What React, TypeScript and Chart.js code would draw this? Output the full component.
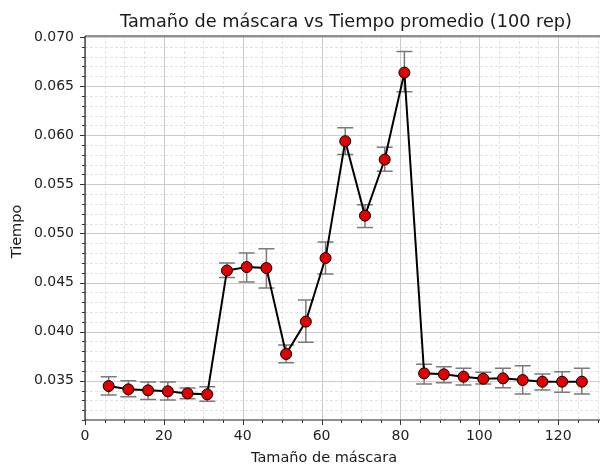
import React, { useEffect, useRef } from "react";
import { Chart, registerables } from "chart.js";

Chart.register(...registerables);

const titleText = "Tamaño de máscara vs Tiempo promedio (100 rep)";
const xLabel = "Tamaño de máscara";
const yLabel = "Tiempo";

const maskSizes = [6, 11, 16, 21, 26, 31, 36, 41, 46, 51, 56, 61, 66, 71, 76, 81, 86, 91, 96, 101, 106, 111, 116, 121, 126];
const meanTimes = [
  0.03446, 0.03412, 0.03402, 0.03392, 0.03371, 0.03361, 0.04622, 0.04657, 0.04647, 0.03772,
  0.04102, 0.04749, 0.05939, 0.05181, 0.05752, 0.06637, 0.03575, 0.03565, 0.03541, 0.0352,
  0.03524, 0.03507, 0.0349, 0.0349, 0.0349,
];
const errHigh = [
  0.0354, 0.035, 0.03487, 0.03487, 0.03426, 0.03439, 0.04698, 0.048, 0.04844, 0.03864,
  0.04323, 0.04912, 0.06076, 0.05293, 0.05878, 0.06851, 0.03667, 0.03643, 0.03627, 0.03586,
  0.03627, 0.03653, 0.03568, 0.03592, 0.03627,
];
const errLow = [
  0.03354, 0.03337, 0.0331, 0.03303, 0.03316, 0.0329, 0.04551, 0.04504, 0.04443, 0.03684,
  0.03892, 0.04586, 0.05803, 0.05061, 0.05633, 0.06443, 0.03466, 0.0348, 0.03456, 0.03466,
  0.03429, 0.03364, 0.03405, 0.03382, 0.03364,
];

const xTickValues = [0, 20, 40, 60, 80, 100, 120];
const xMinorValues = [5, 10, 15, 25, 30, 35, 45, 50, 55, 65, 70, 75, 85, 90, 95, 105, 110, 115, 125, 130];
const yTickValues = [0.035, 0.04, 0.045, 0.05, 0.055, 0.06, 0.065, 0.07];
const yMinorValues = [
  0.031, 0.032, 0.033, 0.034, 0.036, 0.037, 0.038, 0.039, 0.041, 0.042, 0.043, 0.044,
  0.046, 0.047, 0.048, 0.049, 0.051, 0.052, 0.053, 0.054, 0.056, 0.057, 0.058, 0.059,
  0.061, 0.062, 0.063, 0.064, 0.066, 0.067, 0.068, 0.069,
];

const FONT = '"DejaVu Sans", sans-serif';

const decorPlugin = {
  id: "decor",
  beforeDatasetsDraw(chart: any) {
    const { ctx, chartArea: a, scales } = chart;
    const x = scales.x;
    const y = scales.y;
    ctx.save();
    ctx.beginPath();
    ctx.rect(a.left, a.top, a.right - a.left, a.bottom - a.top);
    ctx.clip();
    // minor grid
    ctx.strokeStyle = "#e3e3e3";
    ctx.lineWidth = 1;
    ctx.setLineDash([3, 2]);
    for (const v of xMinorValues) {
      const px = Math.round(x.getPixelForValue(v)) + 0.5;
      ctx.beginPath();
      ctx.moveTo(px, a.top);
      ctx.lineTo(px, a.bottom);
      ctx.stroke();
    }
    for (const v of yMinorValues) {
      const py = Math.round(y.getPixelForValue(v)) + 0.5;
      ctx.beginPath();
      ctx.moveTo(a.left, py);
      ctx.lineTo(a.right, py);
      ctx.stroke();
    }
    // major grid
    ctx.setLineDash([]);
    ctx.strokeStyle = "#cbcbcb";
    for (const v of xTickValues) {
      const px = Math.round(x.getPixelForValue(v)) + 0.5;
      ctx.beginPath();
      ctx.moveTo(px, a.top);
      ctx.lineTo(px, a.bottom);
      ctx.stroke();
    }
    for (const v of yTickValues) {
      const py = Math.round(y.getPixelForValue(v)) + 0.5;
      ctx.beginPath();
      ctx.moveTo(a.left, py);
      ctx.lineTo(a.right, py);
      ctx.stroke();
    }
    ctx.restore();

    // error bars
    ctx.save();
    ctx.strokeStyle = "#7a7a7a";
    ctx.lineWidth = 1.5;
    for (let i = 0; i < maskSizes.length; i++) {
      const px = x.getPixelForValue(maskSizes[i]);
      const top = y.getPixelForValue(errHigh[i]);
      const bot = y.getPixelForValue(errLow[i]);
      ctx.beginPath();
      ctx.moveTo(px, top);
      ctx.lineTo(px, bot);
      ctx.moveTo(px - 8, top);
      ctx.lineTo(px + 8, top);
      ctx.moveTo(px - 8, bot);
      ctx.lineTo(px + 8, bot);
      ctx.stroke();
    }
    ctx.restore();
  },
  afterDraw(chart: any) {
    const { ctx, chartArea: a, scales } = chart;
    const x = scales.x;
    const y = scales.y;
    ctx.save();
    // spines
    ctx.strokeStyle = "#222";
    ctx.lineWidth = 1.2;
    ctx.beginPath();
    ctx.moveTo(a.left, a.top);
    ctx.lineTo(a.right, a.top);
    ctx.moveTo(a.left, a.top);
    ctx.lineTo(a.left, a.bottom);
    ctx.lineTo(a.right, a.bottom);
    ctx.stroke();
    // tick marks
    ctx.lineWidth = 1;
    ctx.strokeStyle = "#333";
    ctx.beginPath();
    for (const v of xTickValues) {
      const px = Math.round(x.getPixelForValue(v)) + 0.5;
      ctx.moveTo(px, a.bottom);
      ctx.lineTo(px, a.bottom + 5);
    }
    for (const v of xMinorValues) {
      const px = Math.round(x.getPixelForValue(v)) + 0.5;
      ctx.moveTo(px, a.bottom);
      ctx.lineTo(px, a.bottom + 3);
    }
    for (const v of yTickValues) {
      const py = Math.round(y.getPixelForValue(v)) + 0.5;
      ctx.moveTo(a.left, py);
      ctx.lineTo(a.left - 5, py);
    }
    for (const v of yMinorValues) {
      const py = Math.round(y.getPixelForValue(v)) + 0.5;
      ctx.moveTo(a.left, py);
      ctx.lineTo(a.left - 3, py);
    }
    ctx.stroke();

    // titles
    ctx.fillStyle = "#1a1a1a";
    ctx.textAlign = "center";
    ctx.textBaseline = "alphabetic";
    ctx.font = `17.7px ${FONT}`;
    ctx.fillText(titleText, 346, 26.5);
    ctx.font = `14.5px ${FONT}`;
    ctx.fillText(xLabel, 324, 462);
    ctx.translate(20.5, 231.5);
    ctx.rotate(-Math.PI / 2);
    ctx.fillText(yLabel, 0, 0);
    ctx.restore();
  },
};

export default function App() {
  const ref = useRef<HTMLCanvasElement | null>(null);
  useEffect(() => {
    if (!ref.current) return;
    const chart = new Chart(ref.current, {
      type: "line",
      data: {
        datasets: [
          {
            data: maskSizes.map((m, i) => ({ x: m, y: meanTimes[i] })),
            borderColor: "#000",
            borderWidth: 2,
            pointBackgroundColor: "#e00000",
            pointBorderColor: "#000",
            pointBorderWidth: 1,
            pointRadius: 5.5,
            pointHoverRadius: 5.5,
            tension: 0,
          },
        ],
      },
      options: {
        animation: false,
        responsive: false,
        events: [],
        layout: { padding: { left: 0, top: 36, right: 3, bottom: 0 } },
        plugins: { legend: { display: false }, tooltip: { enabled: false }, title: { display: false } },
        scales: {
          x: {
            type: "linear",
            min: 0,
            max: 132,
            afterBuildTicks: (s: any) => {
              s.ticks = xTickValues.map((v) => ({ value: v }));
            },
            afterFit: (s: any) => {
              s.height = 47;
            },
            grid: { display: false, drawTicks: false },
            border: { display: false },
            ticks: {
              autoSkip: false,
              maxRotation: 0,
              padding: 8,
              color: "#222",
              font: { family: FONT, size: 14 },
              callback: (v: any) => String(v),
            },
          },
          y: {
            type: "linear",
            min: 0.031,
            max: 0.0701,
            afterBuildTicks: (s: any) => {
              s.ticks = yTickValues.map((v) => ({ value: v }));
            },
            afterFit: (s: any) => {
              s.width = 85;
            },
            grid: { display: false, drawTicks: false },
            border: { display: false },
            ticks: {
              autoSkip: false,
              padding: 11,
              color: "#222",
              font: { family: FONT, size: 14 },
              callback: (v: any) => Number(v).toFixed(3),
            },
          },
        },
      },
      plugins: [decorPlugin],
    } as any);
    return () => chart.destroy();
  }, []);
  return (
    <div style={{ position: "absolute", left: 0, top: 0, width: 600, height: 467, overflow: "hidden", background: "#fff" }}>
      <canvas ref={ref} width={612} height={467} style={{ display: "block" }} />
    </div>
  );
}
